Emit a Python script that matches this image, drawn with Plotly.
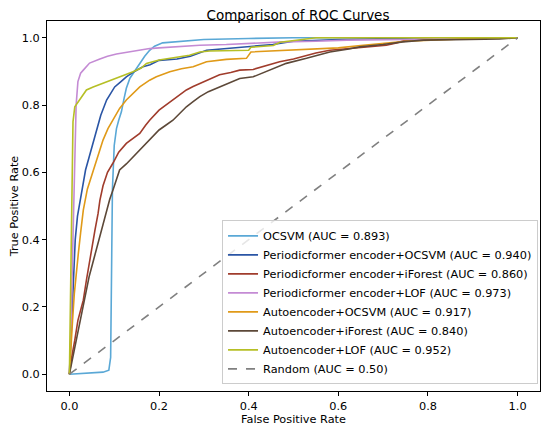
import plotly.graph_objects as go

# ---- data ----
ocsvm_fpr = [0, 0.02, 0.05, 0.075, 0.088, 0.092, 0.094, 0.096, 0.1, 0.105, 0.11, 0.116, 0.122, 0.127,
             0.135, 0.147, 0.157, 0.168, 0.179, 0.19, 0.208, 0.25, 0.3, 0.4, 0.5, 1.0]
ocsvm_tpr = [0, 0.002, 0.004, 0.006, 0.012, 0.05, 0.3, 0.55, 0.68, 0.73, 0.755, 0.78, 0.82, 0.85,
             0.88, 0.905, 0.924, 0.945, 0.963, 0.975, 0.985, 0.99, 0.995, 0.998, 1.0, 1.0]

p_ocsvm_fpr = [0, 0.003, 0.006, 0.009, 0.013, 0.018, 0.024, 0.03, 0.036, 0.045, 0.06, 0.07, 0.083,
               0.092, 0.101, 0.115, 0.127, 0.145, 0.164, 0.18, 0.2, 0.24, 0.27, 0.306, 0.35, 0.402,
               0.454, 0.5, 0.6, 0.8, 1.0]
p_ocsvm_tpr = [0, 0.1, 0.2, 0.3, 0.4, 0.47, 0.52, 0.57, 0.607, 0.65, 0.726, 0.77, 0.815,
               0.835, 0.854, 0.87, 0.884, 0.9, 0.914, 0.92, 0.933, 0.937, 0.945, 0.963, 0.968, 0.972,
               0.98, 0.99, 0.995, 1.0, 1.0]

p_iforest_fpr = [0, 0.005, 0.012, 0.019, 0.025, 0.031, 0.038, 0.044, 0.049, 0.057, 0.064, 0.068, 0.075,
                 0.085, 0.097, 0.11, 0.127, 0.142, 0.157, 0.17, 0.179, 0.2, 0.215, 0.231, 0.246, 0.261,
                 0.276, 0.291, 0.31, 0.335, 0.36, 0.38, 0.41, 0.44, 0.469, 0.5, 0.521, 0.55, 0.581,
                 0.625, 0.66, 0.707, 0.73, 0.75, 0.781, 0.85, 0.9, 1.0]
p_iforest_tpr = [0, 0.05, 0.101, 0.16, 0.19, 0.22, 0.28, 0.33, 0.369, 0.428, 0.478, 0.517, 0.56,
                 0.6, 0.627, 0.66, 0.686, 0.7, 0.716, 0.74, 0.755, 0.785, 0.8, 0.815, 0.83, 0.845,
                 0.855, 0.864, 0.875, 0.89, 0.897, 0.904, 0.906, 0.918, 0.929, 0.937, 0.944, 0.955, 0.963,
                 0.969, 0.973, 0.978, 0.985, 0.993, 0.995, 0.997, 1.0, 1.0]

p_lof_fpr = [0, 0.004, 0.007, 0.01, 0.012, 0.015, 0.019, 0.025, 0.031, 0.045, 0.068, 0.085, 0.105,
             0.15, 0.179, 0.2, 0.224, 0.26, 0.291, 0.35, 0.402, 0.476, 0.55, 0.62, 0.75, 0.9, 1.0]
p_lof_tpr = [0, 0.15, 0.35, 0.55, 0.7, 0.8, 0.87, 0.895, 0.904, 0.925, 0.937, 0.945, 0.952,
             0.962, 0.968, 0.97, 0.972, 0.976, 0.978, 0.98, 0.983, 0.988, 0.99, 0.993, 0.995, 1.0, 1.0]

ae_ocsvm_fpr = [0, 0.003, 0.007, 0.011, 0.015, 0.02, 0.025, 0.031, 0.04, 0.053, 0.064, 0.075, 0.086,
                0.097, 0.112, 0.127, 0.142, 0.157, 0.179, 0.194, 0.224, 0.25, 0.276, 0.306, 0.35, 0.395,
                0.405, 0.5, 0.6, 0.65, 0.72, 0.75, 0.85, 0.93, 1.0]
ae_ocsvm_tpr = [0, 0.08, 0.16, 0.24, 0.3, 0.36, 0.42, 0.488, 0.55, 0.607, 0.65, 0.696, 0.73,
                0.755, 0.79, 0.815, 0.835, 0.854, 0.874, 0.884, 0.899, 0.908, 0.914, 0.929, 0.936, 0.939,
                0.958, 0.963, 0.97, 0.977, 0.985, 0.99, 0.995, 1.0, 1.0]

ae_iforest_fpr = [0, 0.006, 0.013, 0.02, 0.028, 0.036, 0.044, 0.052, 0.06, 0.068, 0.076, 0.083, 0.09,
                  0.097, 0.105, 0.112, 0.127, 0.142, 0.157, 0.172, 0.186, 0.2, 0.215, 0.231, 0.246,
                  0.261, 0.276, 0.291, 0.31, 0.335, 0.36, 0.38, 0.41, 0.447, 0.484, 0.529, 0.555, 0.581,
                  0.62, 0.648, 0.7, 0.744, 0.79, 0.915, 0.96, 1.0]
ae_iforest_tpr = [0, 0.04, 0.09, 0.14, 0.19, 0.24, 0.29, 0.33, 0.37, 0.41, 0.45, 0.49, 0.52,
                  0.547, 0.58, 0.607, 0.625, 0.646, 0.665, 0.686, 0.705, 0.726, 0.74, 0.755, 0.775,
                  0.795, 0.81, 0.825, 0.84, 0.854, 0.868, 0.879, 0.884, 0.904, 0.924, 0.939, 0.948, 0.958,
                  0.966, 0.973, 0.98, 0.988, 0.993, 0.995, 0.997, 1.0]

ae_lof_fpr = [0, 0.002, 0.004, 0.006, 0.008, 0.012, 0.023, 0.038, 0.053, 0.083, 0.112, 0.142, 0.16,
              0.172, 0.2, 0.246, 0.268, 0.291, 0.313, 0.4, 0.405, 0.455, 0.47, 0.52, 0.55, 1.0]
ae_lof_tpr = [0, 0.2, 0.45, 0.65, 0.75, 0.795, 0.815, 0.845, 0.854, 0.869, 0.884, 0.899, 0.91,
              0.924, 0.934, 0.944, 0.948, 0.958, 0.961, 0.963, 0.972, 0.977, 0.987, 0.995, 1.0, 1.0]

random_fpr = [0, 1]
random_tpr = [0, 1]

names = [
    'OCSVM (AUC = 0.893)',
    'Periodicformer encoder+OCSVM (AUC = 0.940)',
    'Periodicformer encoder+iForest (AUC = 0.860)',
    'Periodicformer encoder+LOF (AUC = 0.973)',
    'Autoencoder+OCSVM (AUC = 0.917)',
    'Autoencoder+iForest (AUC = 0.840)',
    'Autoencoder+LOF (AUC = 0.952)',
]
curves = [
    (ocsvm_fpr, ocsvm_tpr),
    (p_ocsvm_fpr, p_ocsvm_tpr),
    (p_iforest_fpr, p_iforest_tpr),
    (p_lof_fpr, p_lof_tpr),
    (ae_ocsvm_fpr, ae_ocsvm_tpr),
    (ae_iforest_fpr, ae_iforest_tpr),
    (ae_lof_fpr, ae_lof_tpr),
]
colors = ['#5aa8d6', '#2a55a5', '#a03c2c', '#c48bd4', '#e09a18', '#5c4838', '#b6bf25']

FONT = 'DejaVu Sans'
FS = 11.3

fig = go.Figure()

for name, (fx, ty), c in zip(names, curves, colors):
    fig.add_trace(go.Scatter(
        x=fx, y=ty, mode='lines', name=name,
        line=dict(color=c, width=1.6)
    ))

fig.add_trace(go.Scatter(
    x=random_fpr, y=random_tpr, mode='lines', name='Random (AUC = 0.50)',
    line=dict(color='#808080', width=1.6, dash='dash')
))

# page body adds ~8px offset, so the figure is a bit smaller than the window
fig.update_layout(
    width=542, height=420,
    margin=dict(l=39, r=10, t=13, b=37, autoexpand=False),
    paper_bgcolor='white', plot_bgcolor='white',
    font=dict(family=FONT, size=FS, color='black'),
    title=dict(text='Comparison of ROC Curves', x=0.535, xanchor='center',
               yref='container', y=0.982, yanchor='middle',
               font=dict(size=13.5, family=FONT, color='black')),
    legend=dict(x=0.996, y=0.018, xanchor='right', yanchor='bottom',
                bgcolor='rgba(255,255,255,0.8)', bordercolor='#cccccc', borderwidth=1,
                font=dict(size=FS, family=FONT), itemwidth=30),
    showlegend=True,
)

axis_style = dict(
    showline=True, linecolor='black', linewidth=1, mirror=True,
    ticks='outside', ticklen=4, tickwidth=1, tickcolor='black',
    showgrid=False, zeroline=False, automargin=False,
    tickvals=[0, 0.2, 0.4, 0.6, 0.8, 1.0], ticktext=['0.0', '0.2', '0.4', '0.6', '0.8', '1.0'],
    tickfont=dict(size=FS, family=FONT),
)
fig.update_xaxes(range=[-0.05, 1.05], title=dict(text='False Positive Rate', standoff=0,
                                                font=dict(size=FS, family=FONT)), **axis_style)
fig.update_yaxes(range=[-0.05, 1.05], title=dict(text='True Positive Rate', standoff=5,
                                                font=dict(size=FS, family=FONT)), **axis_style)

fig.write_html("out.html")
